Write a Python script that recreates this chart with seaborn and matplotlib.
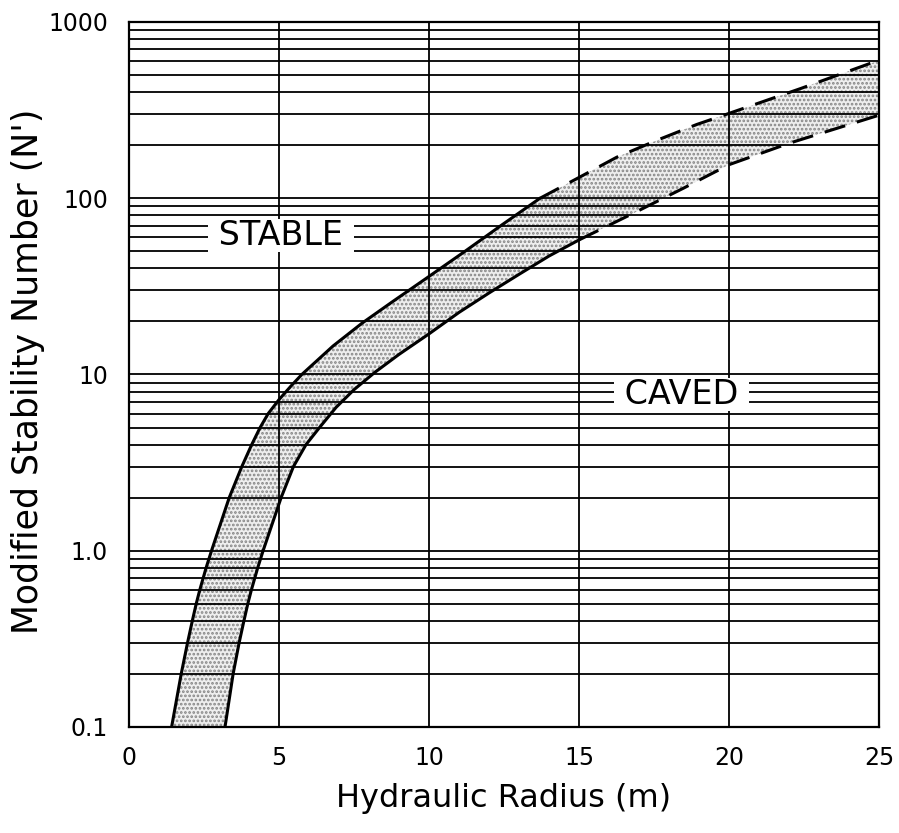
import numpy as np
import pandas as pd
import matplotlib
matplotlib.use("Agg")
import matplotlib.pyplot as plt
from matplotlib.ticker import LogLocator, NullFormatter
import seaborn as sns

# --- Dados ---
# Limite superior (lado estável), parte contínua e parte tracejada
upper_x = [1.42, 1.74, 1.95, 2.11, 2.24, 2.36, 2.57, 2.75, 3.34, 3.76, 4.09,
           4.37, 4.64, 5.0, 5.4, 5.76, 6.8, 7.76, 8.8, 10.0, 11.2, 12.4, 13.7]
upper_y = [0.1, 0.2, 0.3, 0.4, 0.5, 0.6, 0.8, 1.0, 2, 3, 4,
           5, 6, 7.2, 8.6, 10, 14.5, 19.5, 26, 36, 50, 70, 100]
upper_dash_x = [13.7, 15.03, 16.26, 17.59, 18.92, 20.0, 22.4, 24.7, 25.0]
upper_dash_y = [100, 132, 171, 213, 262, 303, 420, 582, 600]

# Limite inferior (lado de colapso)
lower_x = [3.2, 3.47, 3.67, 3.83, 3.96, 4.08, 4.29, 4.47, 5.07, 5.48, 5.9,
           6.35, 6.9, 7.5, 8.2, 9.0, 10.0, 11.0, 12.0, 13.0, 14.0, 15.0]
lower_y = [0.1, 0.2, 0.3, 0.4, 0.5, 0.6, 0.8, 1.0, 2, 3, 4,
           5, 6.5, 8.2, 10.3, 13, 17, 22.5, 29, 37, 47, 58]
lower_dash_x = [15.0, 16.8, 18.48, 20.0, 22.0, 25.0]
lower_dash_y = [58, 82, 114, 155, 205, 296]

x_ticks = [0, 5, 10, 15, 20, 25]
y_ticks = [0.1, 1, 10, 100, 1000]
y_tick_labels = ["0.1", "1.0", "10", "100", "1000"]

sns.set_style("white", {"text.color": "black", "axes.labelcolor": "black",
                        "xtick.color": "black", "ytick.color": "black"})
plt.rcParams["font.family"] = ["DejaVu Sans"]
plt.rcParams["hatch.linewidth"] = 1.3

fig = plt.figure(figsize=(8.99, 8.33), dpi=100)
ax = fig.add_axes([0.1435, 0.1273, 0.8343, 0.8463])

# --- Faixa de transição (pontilhada) ---
band_x = upper_x + upper_dash_x[1:] + lower_dash_x[::-1] + lower_x[::-1][1:]
band_y = upper_y + upper_dash_y[1:] + lower_dash_y[::-1] + lower_y[::-1][1:]
ax.fill(band_x, band_y, facecolor="#eeeeee", edgecolor="#858585",
        hatch="....", linewidth=0, zorder=1)

# --- Curvas limite ---
dash = (0, (7, 4))
for xs, ys, ls in [(upper_x, upper_y, "-"), (lower_x, lower_y, "-"),
                   (upper_dash_x, upper_dash_y, dash),
                   (lower_dash_x, lower_dash_y, dash)]:
    curves = pd.DataFrame({"x": xs, "y": ys})
    sns.lineplot(data=curves, x="x", y="y", ax=ax, color="black", lw=2.2,
                 sort=False, estimator=None, zorder=3, linestyle=ls)

# --- Eixos ---
ax.set_yscale("log")
ax.set_xlim(0, 25)
ax.set_ylim(0.1, 1000)
ax.set_xticks(x_ticks)
ax.set_yticks(y_ticks, labels=y_tick_labels)
ax.yaxis.set_minor_locator(LogLocator(base=10, subs=np.arange(2, 10)))
ax.yaxis.set_minor_formatter(NullFormatter())
ax.tick_params(which="both", length=0)
ax.tick_params(axis="x", labelsize=17, pad=14)
ax.tick_params(axis="y", labelsize=17, pad=15)

ax.set_axisbelow("line")
ax.grid(which="major", axis="both", color="black", lw=1.3)
ax.grid(which="minor", axis="y", color="black", lw=1.3)
for s in ax.spines.values():
    s.set_visible(True)
    s.set_color("black")
    s.set_linewidth(1.6)

ax.set_xlabel("Hydraulic Radius (m)", fontsize=23)
ax.set_ylabel("Modified Stability Number (N')", fontsize=25)
ax.xaxis.set_label_coords(0.5, -0.08)
ax.yaxis.set_label_coords(-0.112, 0.505)

# --- Rótulos das regiões ---
ax.text(5.07, 54, " STABLE ", fontsize=24, ha="center", va="baseline",
        bbox=dict(facecolor="white", edgecolor="none", pad=0), zorder=4)
ax.text(18.43, 6.84, " CAVED ", fontsize=24, ha="center", va="baseline",
        bbox=dict(facecolor="white", edgecolor="none", pad=0), zorder=4)

plt.savefig("out.png", dpi=100)
plt.close()
